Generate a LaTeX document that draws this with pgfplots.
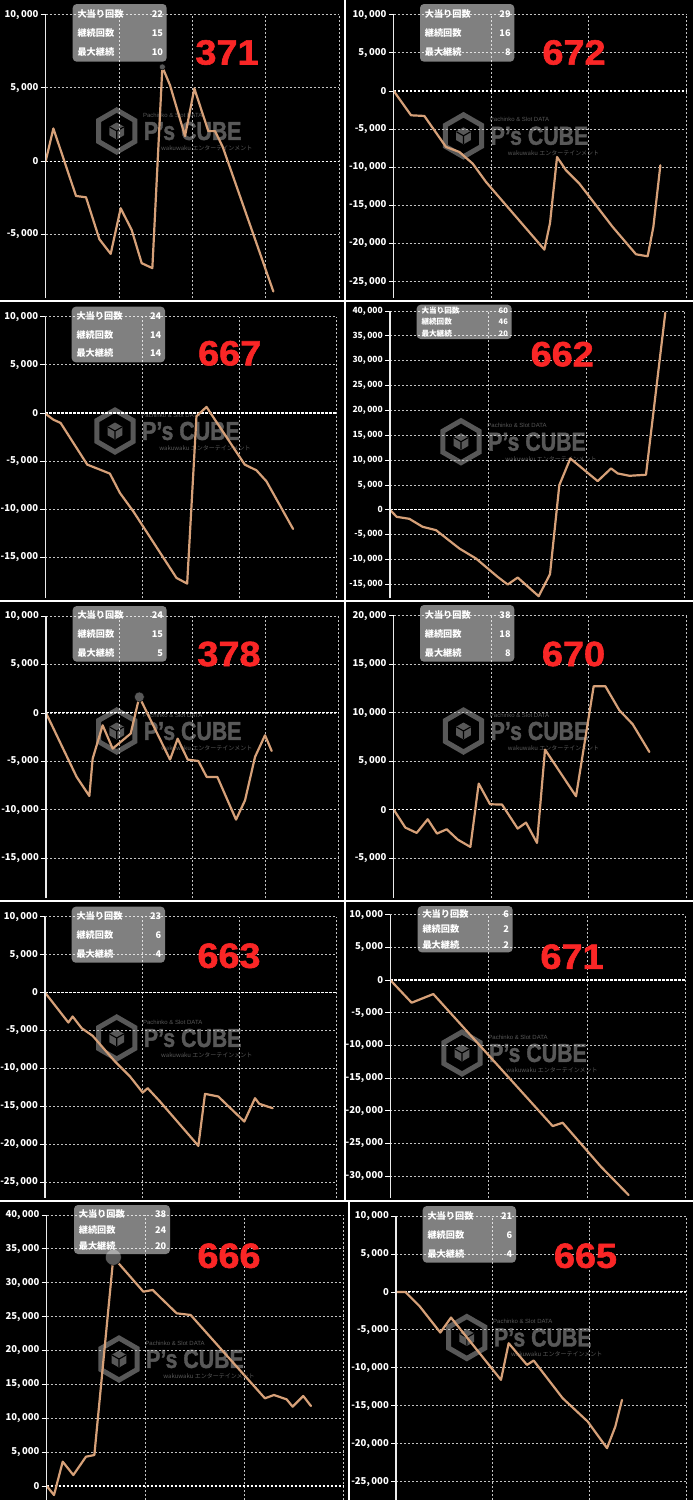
\documentclass[border=0pt]{standalone}
\usepackage{pgfplots}
\pgfplotsset{compat=1.18}
\usepackage{fontspec}
\usetikzlibrary{shapes.geometric}
\newfontfamily\jp{Noto Sans CJK JP}
\newfontfamily\lib{Liberation Sans}
\newfontfamily\heavy{Liberation Sans}[BoldFeatures={FakeBold=1.6}]
\definecolor{slump}{RGB}{214,160,120}
\definecolor{numred}{RGB}{250,38,38}
\definecolor{wmgray}{RGB}{88,88,88}
\definecolor{gridc}{RGB}{195,195,195}
\definecolor{axisc}{RGB}{235,235,235}

\newcommand\tickfont{\jp\bfseries\fontsize{9.5}{10}\selectfont}
\newcommand\iboxfont{\jp\bfseries\fontsize{9.2}{10}\selectfont}

\pgfplotsset{
  panel/.style={
    scale only axis, anchor=north west,
    xmin=0, xtick distance=2000,
    axis line style={draw=none},
    xmajorticks=false, xmajorgrids=true,
    ytick distance=5000, ytick pos=left, tick align=outside,
    major tick length=5pt,
    scaled y ticks=false,
    y tick style={white, line width=0.8pt},
    yticklabel style={font=\tickfont, text=white, inner sep=2pt},
    /pgf/number format/assume math mode=true,
    /pgf/number format/1000 sep={,\,},
    ymajorgrids=true,
    grid style={gridc, line width=0.8pt, dash pattern=on 2pt off 2pt},
    extra y ticks={0}, extra y tick labels={},
    extra y tick style={major grid style={white, line width=1.1pt, dash pattern=on 2.5pt off 1.5pt}},
    extra description/.code={\draw[axisc, line width=1.5pt] (0,0) -- (0,1);},
  },
  slumpline/.style={slump, line width=2.2pt, line join=round, line cap=round, mark=none},
  hover/.style={only marks, mark=*, mark size=#1, mark options={draw=none, fill=wmgray}},
}

% summary box: x1 y1 x2 y2 first-row-y row-step values
\newcommand\ibox[9]{%
  \fill[white, fill opacity=0.5, rounded corners=4pt] (#1,#2) rectangle (#3,#4);
  \node[anchor=west, text=white, font=\iboxfont, inner sep=0pt] at ({#1+4.6},{#5}) {大当り回数};
  \node[anchor=west, text=white, font=\iboxfont, inner sep=0pt] at ({#1+4.6},{#5+#6}) {継続回数};
  \node[anchor=west, text=white, font=\iboxfont, inner sep=0pt] at ({#1+4.6},{#5+2*#6}) {最大継続};
  \node[anchor=east, text=white, font=\iboxfont, inner sep=0pt] at ({#3-3.5},{#5}) {#7};
  \node[anchor=east, text=white, font=\iboxfont, inner sep=0pt] at ({#3-3.5},{#5+#6}) {#8};
  \node[anchor=east, text=white, font=\iboxfont, inner sep=0pt] at ({#3-3.5},{#5+2*#6}) {#9};
}
% machine number
\newcommand\rlab[3]{%
  \node[text=numred, font=\heavy\bfseries\fontsize{35}{35}\selectfont, inner sep=0pt] at (#1,#2) {\scalebox{1.08}[1]{#3}};
}
% site logo
\newcommand\wm[2]{%
  \node[regular polygon, regular polygon sides=6, shape border rotate=30, minimum size=42pt, draw=wmgray, line width=5pt, inner sep=0pt] at (#1,#2) {};
  \node[regular polygon, regular polygon sides=6, shape border rotate=30, minimum size=17pt, fill=wmgray, inner sep=0pt] at (#1,#2) {};
  \draw[black, line width=1.1pt] (#1,#2) -- ++(0,8) (#1,#2) -- ++(-7,-4) (#1,#2) -- ++(7,-4);
  \node[text=wmgray, font=\heavy\bfseries\fontsize{26}{26}\selectfont, inner sep=0pt] at ({#1+76},{#2}) {\scalebox{0.82}[1]{P’s CUBE}};
  \node[text=wmgray, font=\lib\fontsize{6}{6}\selectfont, inner sep=0pt] at ({#1+56},{#2-16}) {Pachinko \& Slot DATA};
  \node[text=wmgray, font=\jp\fontsize{6}{6}\selectfont, inner sep=0pt] at ({#1+90},{#2+17}) {wakuwaku エンターテインメント};
}

\begin{document}
\begin{tikzpicture}
\begin{scope}[x=1pt, y=-1pt]
  \fill[black] (0,0) rectangle (693,1500);
  \wm{116.7}{131}
  \wm{463.5}{135.8}
  \wm{115}{431}
  \wm{461}{441.7}
  \wm{116.7}{731}
  \wm{463.5}{731}
  \wm{116.7}{1038}
  \wm{462}{1053}
  \wm{119}{1359}
  \wm{466.8}{1337.5}
\end{scope}

% 371
\begin{axis}[panel, at={(45.7pt,-14.7pt)}, width=293.3pt, height=283.3pt,
  xmax=8000, ymin=-9358, ymax=10000]
\addplot[hover=3pt] coordinates {(3182,6432)};
\addplot[slumpline] coordinates {
(0,0) (209,2227) (827,-2386) (1100,-2477) (1464,-5341) (1773,-6341)
(2045,-3227) (2345,-4705) (2618,-6977) (2909,-7318) (3182,6432)
(3391,5182) (3800,1705) (4055,4955) (4436,2045) (4618,2045)
(4827,977) (6209,-8909)};
\end{axis}

% 672
\begin{axis}[panel, at={(393.7pt,-14.7pt)}, width=292.3pt, height=283.3pt,
  xmax=6000, ymin=-27150, ymax=10000]
\addplot[slumpline] coordinates {
(0,0) (356,-3190) (629,-3278) (1074,-7343) (1348,-8000) (1622,-9529)
(1895,-11933) (3093,-20806) (3209,-17309) (3353,-8655) (3537,-10403)
(3811,-12151) (4495,-17834) (4974,-21418) (5213,-21680) (5330,-17834)
(5474,-9747)};
\end{axis}

% 667
\begin{axis}[panel, at={(45.3pt,-316.7pt)}, width=290.7pt, height=281.3pt,
  xmax=6000, ymin=-19228, ymax=10000]
\addplot[slumpline] coordinates {
(0,-70) (165,-693) (316,-1039) (866,-5368) (1127,-5887) (1333,-6303)
(1540,-8311) (1815,-10216) (2708,-17142) (2928,-17731) (3120,-346)
(3327,623) (4117,-5368) (4357,-5956) (4564,-7099) (5114,-12051)};
\end{axis}

% 662
\begin{axis}[panel, at={(390pt,-311pt)}, width=294.3pt, height=287pt,
  xmax=6000, ymin=-17746, ymax=40000,
  yticklabel style={font=\jp\bfseries\fontsize{8.5}{9}\selectfont}]
\addplot[slumpline] coordinates {
(0,0) (136,-1409) (394,-1812) (666,-3423) (938,-4094) (1414,-7785)
(1753,-9798) (2195,-13489) (2399,-15033) (2603,-13624) (3031,-17382)
(3262,-12953) (3452,4966) (3677,10335) (4234,5772) (4506,8322)
(4642,7315) (4880,6845) (5219,7047) (5457,26777) (5613,39662)};
\end{axis}

% 378
\begin{axis}[panel, at={(46pt,-616pt)}, width=292.7pt, height=282pt,
  xmax=8000, ymin=-19091, ymax=10000]
\addplot[hover=5pt] coordinates {(2551,1651)};
\addplot[slumpline] coordinates {
(0,0) (838,-6603) (1185,-8563) (1276,-4711) (1549,-1272) (1822,-3680)
(2314,-2132) (2551,1651) (3390,-4815) (3599,-2648) (3873,-4815)
(4164,-4952) (4392,-6603) (4684,-6603) (5194,-11005) (5440,-9010)
(5713,-4540) (5986,-2304) (6169,-3920)};
\end{axis}

% 670
\begin{axis}[panel, at={(393.7pt,-615.7pt)}, width=292.3pt, height=282.3pt,
  xmax=6000, ymin=-9122, ymax=20000]
\addplot[slumpline] coordinates {
(0,0) (239,-1857) (472,-2407) (698,-997) (889,-2476) (1088,-2029)
(1314,-3095) (1574,-3852) (1745,2682) (1977,550) (2224,516)
(2545,-1960) (2716,-1341) (2942,-3439) (3106,6190) (3743,1376)
(4105,12724) (4345,12724) (4632,10248) (4906,8804) (5248,5949)};
\end{axis}

% 663
\begin{axis}[panel, at={(45pt,-916.7pt)}, width=291pt, height=281.3pt,
  xmax=6000, ymin=-27111, ymax=10000]
\addplot[slumpline] coordinates {
(0,0) (481,-3958) (570,-3167) (756,-4706) (983,-5717) (1443,-9104)
(1753,-11083) (2014,-13194) (2117,-12623) (2371,-14381) (3162,-20231)
(3299,-13370) (3574,-13722) (4110,-17020) (4330,-13942) (4419,-14689)
(4694,-15261)};
\end{axis}

% 671
\begin{axis}[panel, at={(390.3pt,-914.7pt)}, width=295pt, height=283.3pt,
  xmax=6000, ymin=-33362, ymax=10000]
\addplot[slumpline] coordinates {
(0,0) (434,-3469) (875,-2143) (3302,-22347) (3505,-21837) (4285,-28571)
(4848,-32908)};
\end{axis}

% 666
\begin{axis}[panel, at={(46.7pt,-1215pt)}, width=296.6pt, height=285pt,
  xmax=6000, ymin=-2066, ymax=40000]
\addplot[hover=8pt] coordinates {(1348,33758)};
\addplot[slumpline] coordinates {
(0,0) (148,-1329) (324,3592) (539,1624) (795,4330) (964,4577)
(1348,33758) (1955,28689) (2144,28935) (2629,25491) (2912,25245)
(4415,12942) (4597,13434) (4853,12795) (4975,11712) (5190,13286)
(5346,11810)};
\end{axis}

% 665
\begin{axis}[panel, at={(396pt,-1216pt)}, width=290pt, height=284pt,
  xmax=6000, ymin=-27418, ymax=10000]
\addplot[slumpline] coordinates {
(0,0) (193,0) (483,-1844) (917,-5356) (1138,-3380) (2172,-11590)
(2331,-6761) (2710,-9614) (2848,-9043) (3448,-14004) (3966,-17077)
(4366,-20589) (4538,-17736) (4676,-14224)};
\end{axis}

\begin{scope}[x=1pt, y=-1pt]
  % panel separators
  \fill[white] (0,299.5) rectangle (693,301.5);
  \fill[white] (0,599.5) rectangle (693,601.5);
  \fill[white] (0,899.5) rectangle (693,901.5);
  \fill[white] (0,1199.5) rectangle (693,1201.5);
  \fill[white] (343.5,0) rectangle (346,1200);
  \fill[white] (347.5,1200) rectangle (350,1500);
  % summary boxes
  \ibox{72.7}{4}{166.7}{61.7}{14}{19.2}{22}{15}{10}
  \ibox{420}{4}{514.3}{61.7}{14}{19.2}{29}{16}{8}
  \ibox{71.7}{306.7}{165}{362.3}{316}{18.7}{24}{14}{14}
  \renewcommand\iboxfont{\jp\bfseries\fontsize{7.6}{8}\selectfont}
  \ibox{416.7}{304.7}{511.7}{339}{310.7}{11.3}{60}{46}{20}
  \renewcommand\iboxfont{\jp\bfseries\fontsize{9.2}{10}\selectfont}
  \ibox{72.7}{606}{166.7}{661.7}{615.3}{19}{24}{15}{5}
  \ibox{420}{605}{514.3}{661.7}{615.3}{19}{38}{18}{8}
  \ibox{71.7}{906.7}{165}{962.7}{916}{19.2}{23}{6}{4}
  \ibox{417.7}{906}{512.7}{952.3}{914}{15.5}{6}{2}{2}
  \ibox{74}{1205}{170}{1254}{1214}{16}{38}{24}{20}
  \ibox{422.7}{1206}{516}{1262.7}{1216}{19}{21}{6}{4}
  % machine numbers
  \rlab{227}{52.5}{371}
  \rlab{574}{52.5}{672}
  \rlab{229.7}{353.3}{667}
  \rlab{562.2}{354.2}{662}
  \rlab{229}{654}{378}
  \rlab{573.5}{654}{670}
  \rlab{229}{955.8}{663}
  \rlab{572}{956.7}{671}
  \rlab{229}{1255.8}{666}
  \rlab{585.5}{1255.8}{665}
\end{scope}
\pgfresetboundingbox
\useasboundingbox (0pt,0pt) rectangle (693pt,-1500pt);
\end{tikzpicture}
\end{document}
